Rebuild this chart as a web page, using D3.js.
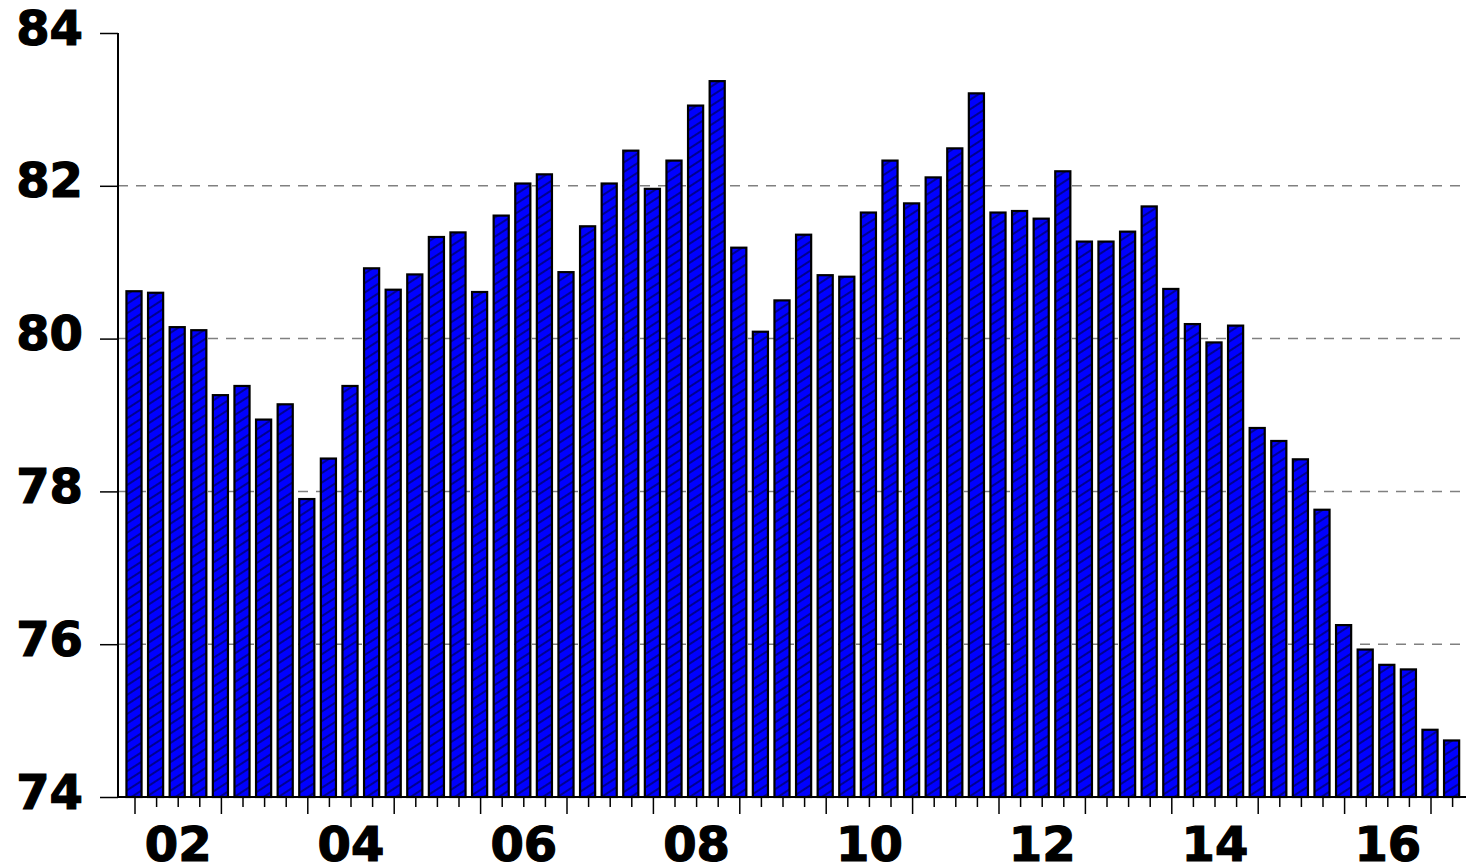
<!DOCTYPE html>
<html>
<head>
<meta charset="utf-8">
<script src="https://cdn.jsdelivr.net/npm/d3@7"></script>
<style>
  html, body { margin: 0; padding: 0; background: #fff; }
  svg { display: block; }
</style>
</head>
<body>
<svg id="chart" width="1466" height="868"></svg>
<script>
// quarterly series, 2002Q1 .. 2017Q2
const years = [2002, 2003, 2004, 2005, 2006, 2007, 2008, 2009, 2010, 2011, 2012, 2013, 2014, 2015, 2016, 2017];
const quarters = ["Q1", "Q2", "Q3", "Q4"];
const values = [
  80.62, 80.60, 80.15, 80.11, 79.26, 79.38, 78.94, 79.14,
  77.90, 78.43, 79.38, 80.92, 80.64, 80.84, 81.33, 81.39,
  80.61, 81.61, 82.03, 82.15, 80.87, 81.47, 82.03, 82.46,
  81.96, 82.33, 83.05, 83.37, 81.19, 80.09, 80.50, 81.36,
  80.83, 80.81, 81.65, 82.33, 81.77, 82.11, 82.49, 83.21,
  81.65, 81.67, 81.57, 82.19, 81.27, 81.27, 81.40, 81.73,
  80.65, 80.19, 79.95, 80.17, 78.83, 78.66, 78.42, 77.76,
  76.25, 75.93, 75.73, 75.67, 74.88, 74.74
];
const yTicks = [74, 76, 78, 80, 82, 84];
const gridTicks = [76, 78, 80, 82];
const yearLabels = ["02", "04", "06", "08", "10", "12", "14", "16"];

const categories = years.flatMap(y => quarters.map(q => y + q)).slice(0, values.length);
const data = categories.map((c, i) => ({ cat: c, value: values[i] }));

const svg = d3.select("#chart");
const font = "'DejaVu Sans', Arial, sans-serif";

const axisX = 118;
const plotRight = 1466;

const x = d3.scaleBand()
  .domain(categories)
  .range([123.2, 1462.4])
  .paddingInner(0.3)
  .paddingOuter(0.15);

const y = d3.scaleLinear()
  .domain([74, 84])
  .range([797, 33]);

const mid = c => x(c) + x.bandwidth() / 2 + 1;

// hatch fill
const defs = svg.append("defs");
const pat = defs.append("pattern")
  .attr("id", "hatch")
  .attr("patternUnits", "userSpaceOnUse")
  .attr("width", 12)
  .attr("height", 8)
  .attr("patternTransform", "rotate(-33)");
pat.append("rect")
  .attr("width", 12)
  .attr("height", 8)
  .attr("fill", "#0000ff");
pat.append("line")
  .attr("x1", 0).attr("x2", 12)
  .attr("y1", 4).attr("y2", 4)
  .attr("stroke", "#000022")
  .attr("stroke-width", 1);

// grid lines
svg.append("g")
  .selectAll("line")
  .data(gridTicks)
  .enter()
  .append("line")
  .attr("x1", axisX)
  .attr("x2", plotRight)
  .attr("y1", d => y(d))
  .attr("y2", d => y(d))
  .attr("stroke", "#808080")
  .attr("stroke-width", 1.5)
  .attr("stroke-dasharray", "10,8");

// bars
svg.append("g")
  .selectAll("rect")
  .data(data)
  .enter()
  .append("rect")
  .attr("x", d => x(d.cat))
  .attr("y", d => y(d.value))
  .attr("width", x.bandwidth())
  .attr("height", d => y(74) - y(d.value))
  .attr("fill", "url(#hatch)")
  .attr("stroke", "#000")
  .attr("stroke-width", 2.2);

// y axis
const yAxis = svg.append("g")
  .attr("transform", `translate(${axisX},0)`)
  .call(d3.axisLeft(y).tickValues(yTicks).tickSize(18).tickPadding(17).tickFormat(d3.format("d")));
yAxis.select(".domain").attr("stroke-width", 2).attr("d", `M0,${y(84)}V${y(74)}`);
yAxis.selectAll(".tick line").attr("stroke-width", 1.5);
yAxis.selectAll(".tick text")
  .attr("dy", "0.23em")
  .style("font-family", font)
  .style("font-weight", "bold")
  .style("font-size", "48px")
  .attr("fill", "#000")
  .attr("stroke", "#000")
  .attr("stroke-width", 1.2);

// x axis
const xg = svg.append("g").attr("transform", `translate(0,${y(74)})`);
xg.append("line")
  .attr("x1", axisX).attr("x2", plotRight)
  .attr("y1", 0).attr("y2", 0)
  .attr("stroke", "#000")
  .attr("stroke-width", 2);
xg.selectAll(".qtick")
  .data(categories)
  .enter()
  .append("line")
  .attr("class", "qtick")
  .attr("x1", d => mid(d))
  .attr("x2", d => mid(d))
  .attr("y1", 0)
  .attr("y2", d => d.endsWith("Q1") ? 17 : 10)
  .attr("stroke", "#000")
  .attr("stroke-width", 1.5);

// year labels, centred between Q1 of the year and Q1 of the next one
xg.selectAll(".ylab")
  .data(yearLabels)
  .enter()
  .append("text")
  .attr("class", "ylab")
  .attr("x", d => mid("20" + d + "Q1") + 2 * x.step())
  .attr("y", 64)
  .attr("text-anchor", "middle")
  .style("font-family", font)
  .style("font-weight", "bold")
  .style("font-size", "48px")
  .attr("fill", "#000")
  .attr("stroke", "#000")
  .attr("stroke-width", 1.2)
  .text(d => d);
</script>
</body>
</html>
